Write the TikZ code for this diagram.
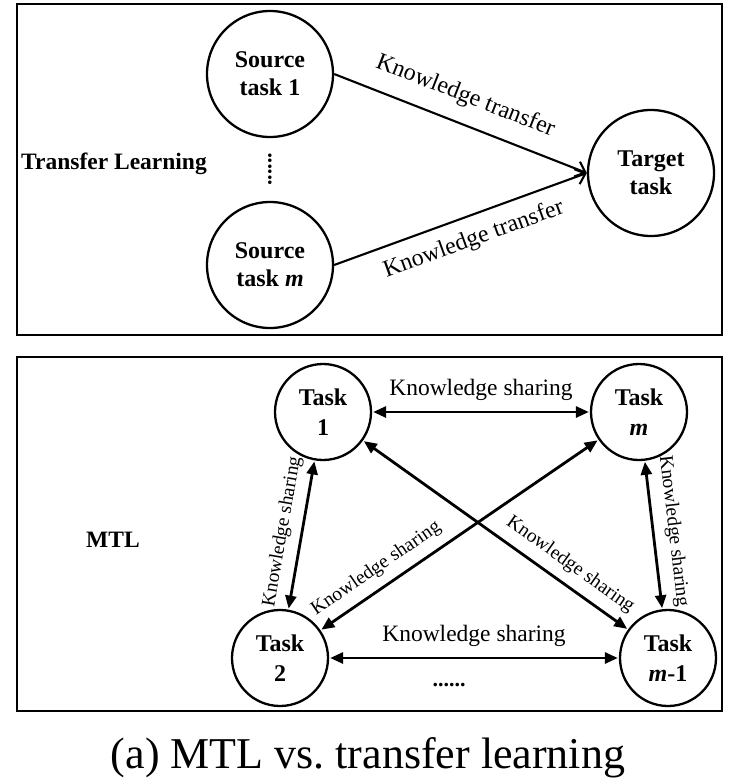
\documentclass[tikz,border=0pt]{standalone}
\usepackage{fontspec}
\setmainfont{Liberation Serif}
\usetikzlibrary{arrows.meta}
\tikzset{
  frame/.style={line width=2.8pt},
  srcnode/.style={circle, draw, line width=2.3pt, minimum size=126pt, inner sep=0pt, align=center, font=\fontsize{24}{28}\selectfont\bfseries},
  tasknode/.style={circle, draw, line width=2.3pt, minimum size=96pt, inner sep=0pt, align=center, font=\fontsize{24}{30}\selectfont\bfseries},
  sidelbl/.style={font=\fontsize{23.5}{28}\selectfont\bfseries},
  tarrow/.style={line width=2.1pt, -{Straight Barb[length=9pt,width=16pt,line width=2.1pt]}},
  marrow/.style={line width=2.8pt, {Triangle[length=13pt,width=11pt]}-{Triangle[length=13pt,width=11pt]}, shorten <=1pt, shorten >=1pt},
  tlbl/.style={font=\fontsize{24}{28}\selectfont, inner sep=0pt},
  hlbl/.style={font=\fontsize{23.5}{28}\selectfont, inner sep=0pt},
  dlbl/.style={font=\fontsize{19.5}{24}\selectfont, inner sep=0pt},
  dotlbl/.style={font=\fontsize{22}{24}\selectfont\bfseries, inner sep=0pt}
}
\begin{document}
\begin{tikzpicture}[x=1pt,y=-1pt]
\useasboundingbox (0,0) rectangle (731,782);
% frames
\draw[frame] (17,4) rectangle (722,335);
\draw[frame] (17,357) rectangle (722,711);
% ---- transfer learning ----
\node[srcnode] (s1) at (270,74) {Source\\task 1};
\node[srcnode] (sm) at (270,265) {Source\\task \textit{m}};
\node[srcnode] (tg) at (651,173) {Target\\task};
\node[sidelbl] (tl) at (114,164) {Transfer Learning};
\node[dotlbl, rotate=90] (vd) at (270,169) {......};
\draw[tarrow] (s1.east) -- node[tlbl, sloped, above=15pt, pos=0.48] {Knowledge transfer} (tg.west);
\draw[tarrow] (sm.east) -- node[tlbl, sloped, below=12pt, pos=0.52] {Knowledge transfer} (tg.west);
% ---- MTL ----
\node[tasknode] (t1) at (323,412) {Task\\1};
\node[tasknode] (tm) at (639,412) {Task\\\textit{m}};
\node[tasknode] (t2) at (280,658) {Task\\2};
\node[tasknode] (tm1) at (668,658) {Task\\\textit{m}-1};
\node[sidelbl] (mtl) at (113,540) {MTL};
\draw[marrow] (t1) -- node[hlbl, above=10pt] {Knowledge sharing} (tm);
\draw[marrow] (t2) -- node[hlbl, above=10pt] {Knowledge sharing} (tm1);
\node[dotlbl] (hd) at (449,685) {......};
\draw[marrow] (t1) -- node[dlbl, sloped, above=9pt, pos=0.5] {Knowledge sharing} (t2);
\draw[marrow] (tm) -- node[dlbl, sloped, above=10pt, pos=0.49] {Knowledge sharing} (tm1);
\draw[marrow] (t1) -- node[dlbl, sloped, above=9pt, pos=0.74] {Knowledge sharing} (tm1);
\draw[marrow] (tm) -- node[dlbl, sloped, above=9pt, pos=0.76] {Knowledge sharing} (t2);
% caption
\node[font=\fontsize{44}{50}\selectfont, anchor=base, inner sep=0pt] (cap) at (368,768) {(a) MTL vs.\ transfer learning};
\end{tikzpicture}
\end{document}
